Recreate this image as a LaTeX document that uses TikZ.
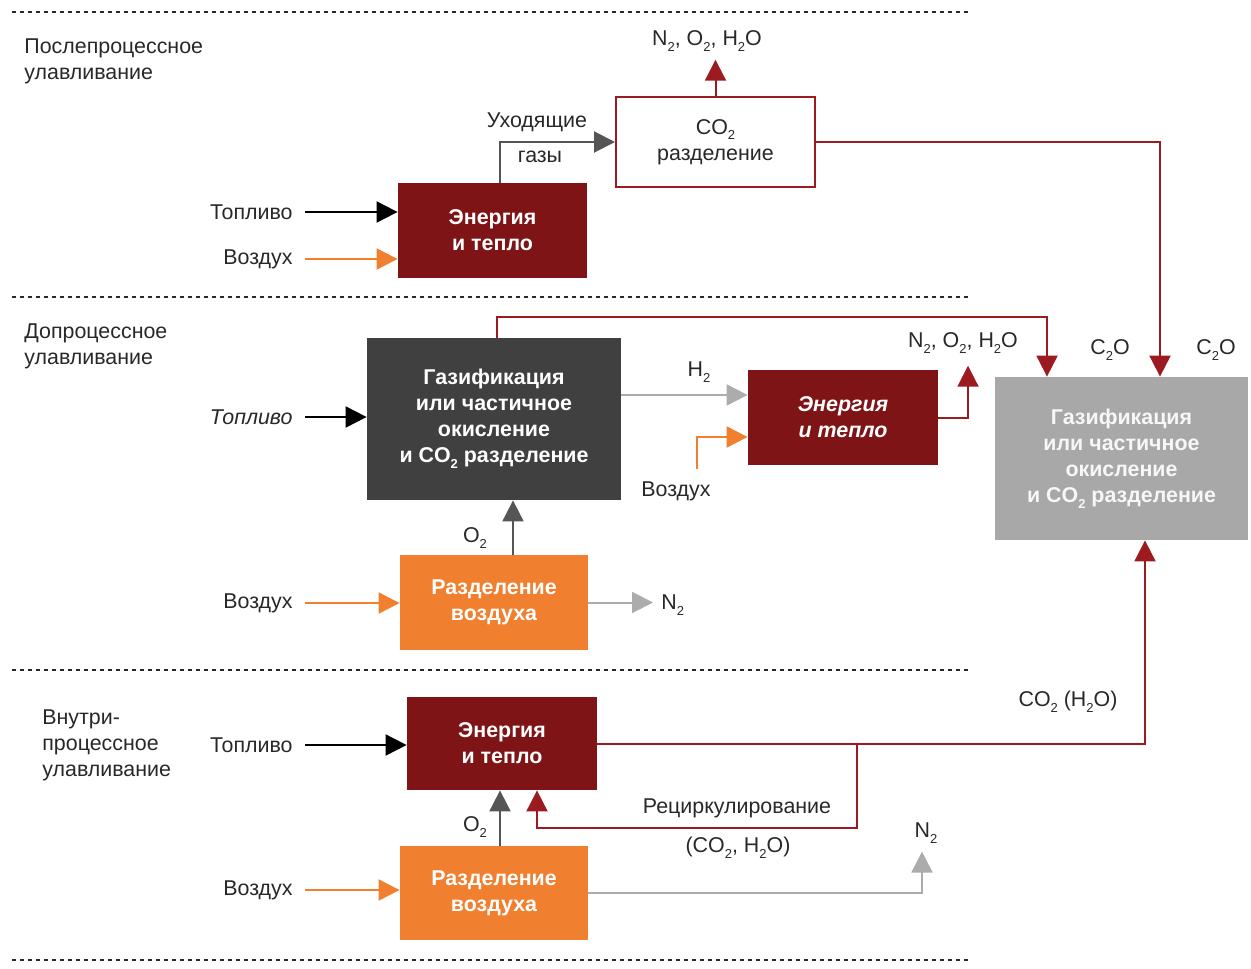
\documentclass[tikz,border=0pt]{standalone}
\usepackage{fontspec}
\setmainfont{Liberation Sans}
\usetikzlibrary{arrows.meta,positioning}
\definecolor{heatred}{RGB}{127,20,22}
\definecolor{flowred}{RGB}{155,27,32}
\definecolor{gasgray}{RGB}{64,64,64}
\definecolor{palegray}{RGB}{168,168,168}
\definecolor{lightflow}{RGB}{172,172,172}
\definecolor{exhgray}{RGB}{85,85,85}
\definecolor{airorange}{RGB}{240,128,48}
\definecolor{inkgray}{RGB}{40,40,40}
\newcommand{\basefont}{\fontsize{10.7}{13}\selectfont}
\newcommand{\lowtwo}{\raisebox{-0.5ex}{\fontsize{6.5}{7}\selectfont 2}}
\tikzset{
    unit/.style 2 args={minimum width=#1*0.5pt,minimum height=#2*0.5pt},
    block/.style={inner sep=0pt,align=center,text=white,font=\basefont\bfseries},
    heat/.style={block,fill=heatred},
    gasif/.style={block,fill=gasgray},
    asu/.style={block,fill=airorange},
    capture/.style={block,fill=white,draw=flowred,line width=1pt,text=inkgray,font=\basefont},
    lbl/.style={inner sep=1pt,align=left},
    divider/.style={line width=1pt,dash pattern=on 2pt off 2pt,inkgray},
    fuelflow/.style={->,line width=1pt,black},
    airflow/.style={->,line width=1pt,airorange},
    gasflow/.style={->,line width=1pt,exhgray},
    nflow/.style={->,line width=1pt,lightflow},
    co2flow/.style={->,line width=1pt,flowred}
}
\begin{document}
\begin{tikzpicture}[x=0.5pt,y=-0.5pt,>={Triangle[length=10.5pt,width=10.5pt]},font=\basefont,text=inkgray]
    \useasboundingbox (0,0) rectangle (1251,968);
    \foreach \yy in {12,297,670,960}
        \draw[divider] (12,\yy) -- (970,\yy);

    \node[lbl,anchor=west] (post) at (22,61) {Послепроцессное\\улавливание};
    \node[capture,unit={199}{90}] (capture) at (715.5,142) {CO\lowtwo\\разделение};
    \node[heat,unit={189}{95}] (heat1) at (492.5,230.5) {Энергия\\и тепло};
    \node[lbl,anchor=east] (fuelA) at (295,212) {Топливо};
    \node[lbl,anchor=east] (airA) at (295,259) {Воздух};
    \node[lbl] (exhA) at (537,122) {Уходящие};
    \node[lbl] (exhB) at (540,157) {газы};
    \node[lbl] (outA) at (707,41) {N\lowtwo, O\lowtwo, H\lowtwo O};

    \node[lbl,anchor=west] (pre) at (22,346) {Допроцессное\\улавливание};
    \node[gasif,unit={254}{162}] (gasif1) at (494,419) {Газификация\\или частичное\\окисление\\и CO\lowtwo\ разделение};
    \node[heat,unit={190}{95},font=\basefont\bfseries\itshape] (heat2) at (843,417.5) {Энергия\\и тепло};
    \node[asu,unit={188}{95}] (asu1) at (494,602.5) {Разделение\\воздуха};
    \node[lbl,anchor=east,font=\basefont\itshape] (fuelB) at (295,417) {Топливо};
    \node[lbl,anchor=east] (airB) at (295,603) {Воздух};
    \node[lbl] (airC) at (676,491) {Воздух};
    \node[lbl] (hyd) at (699,372) {H\lowtwo};
    \node[lbl] (outB) at (963,343) {N\lowtwo, O\lowtwo, H\lowtwo O};
    \node[lbl] (oxA) at (475,538) {O\lowtwo};
    \node[lbl,anchor=west] (nitA) at (659,605) {N\lowtwo};

    \node[block,fill=palegray,unit={253}{163},text=white!94!gray] (gasif2) at (1121.5,458.5) {Газификация\\или частичное\\окисление\\и CO\lowtwo\ разделение};
    \node[lbl] (coA) at (1110,350) {C\lowtwo O};
    \node[lbl] (coB) at (1216,350) {C\lowtwo O};
    \node[lbl] (coH) at (1068,702) {CO\lowtwo\ (H\lowtwo O)};

    \node[lbl,anchor=west] (oxy) at (40,745) {Внутри-\\процессное\\улавливание};
    \node[heat,unit={190}{93}] (heat3) at (502,743.5) {Энергия\\и тепло};
    \node[asu,unit={188}{94}] (asu2) at (494,893) {Разделение\\воздуха};
    \node[lbl,anchor=east] (fuelC) at (295,745) {Топливо};
    \node[lbl,anchor=east] (airD) at (295,890) {Воздух};
    \node[lbl] (oxB) at (475,827) {O\lowtwo};
    \node[lbl] (recA) at (737,808) {Рециркулирование};
    \node[lbl] (recB) at (738,848) {(CO\lowtwo, H\lowtwo O)};
    \node[lbl] (nitB) at (926,833) {N\lowtwo};
    \coordinate (split) at (857,743.5);

    \draw[fuelflow] ([xshift=5pt]fuelA.east) -- (fuelA.east -| heat1.west);
    \draw[airflow] ([xshift=5pt]airA.east) -- (airA.east -| heat1.west);
    \draw[gasflow] ([xshift=3.75pt]heat1.north) |- (capture.west);
    \draw[co2flow,shorten >=3pt] (capture.north) -- (capture.north |- outA.south);
    \draw[co2flow] (capture.east) -| ([xshift=19.25pt]gasif2.north);

    \draw[fuelflow] ([xshift=5pt]fuelB.east) -- (fuelB.east -| gasif1.west);
    \draw[co2flow] ([xshift=1.5pt]gasif1.north) -- ++(0,-21) -| ([xshift=-37.25pt]gasif2.north);
    \draw[nflow] ([yshift=12pt]gasif1.east) -- ([yshift=11.25pt]heat2.west);
    \draw[airflow] ([xshift=10.5pt,yshift=5pt]airC.north) |- ([yshift=-9.75pt]heat2.west);
    \draw[co2flow] (heat2.east) -| ([xshift=2.5pt,yshift=-5pt]outB.south);
    \draw[gasflow] ([xshift=9.5pt]asu1.north) -- ([xshift=9.5pt]gasif1.south);
    \draw[airflow] ([xshift=5pt]airB.east) -- (airB.east -| asu1.west);
    \draw[nflow,shorten >=3pt] (asu1.east) -- (asu1.east -| nitA.west);

    \draw[fuelflow] ([xshift=5pt]fuelC.east) -- (fuelC.east -| heat3.west);
    \draw[co2flow] (heat3.east) -| ([xshift=11.75pt]gasif2.south);
    \draw[co2flow] (split) -- ++(0,84) -| ([xshift=17.5pt]heat3.south);
    \draw[gasflow] ([xshift=3pt]asu2.north) -- ([xshift=-1pt]heat3.south);
    \draw[airflow] ([xshift=5pt]airD.east) -- (airD.east -| asu2.west);
    \draw[nflow] (asu2.east) -| ([xshift=-2pt,yshift=-3pt]nitB.south);
\end{tikzpicture}
\end{document}
